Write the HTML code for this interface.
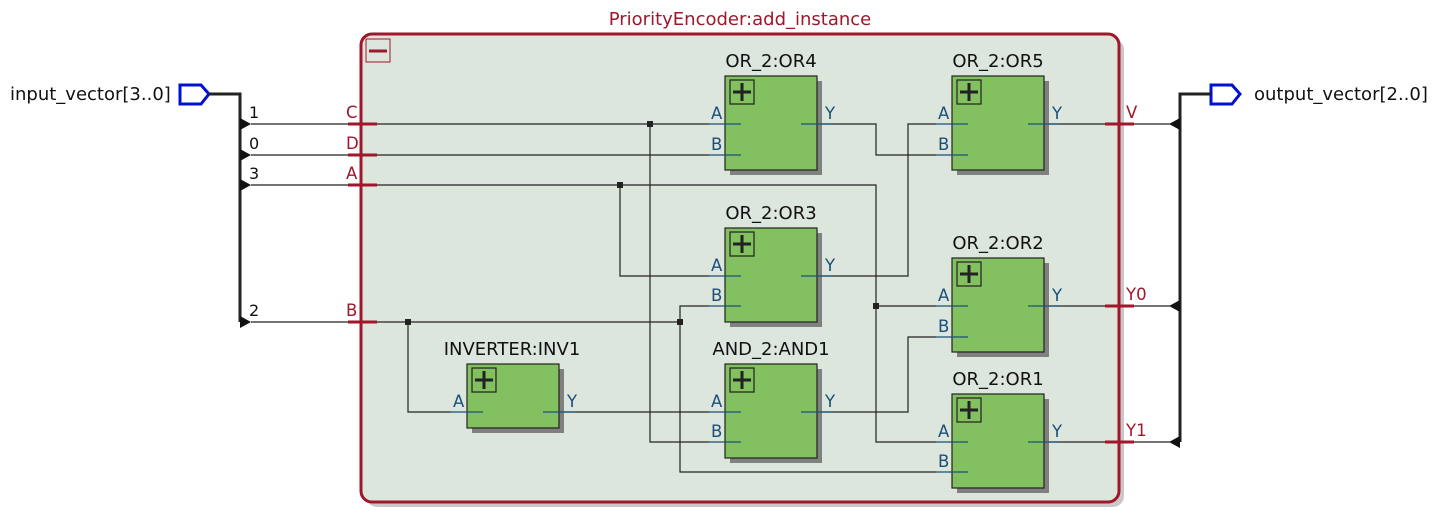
<!DOCTYPE html>
<html><head><meta charset="utf-8"><style>
body{margin:0;background:#fff;}
svg{display:block;font-family:"DejaVu Sans","Liberation Sans",sans-serif;}
</style></head><body>
<svg width="1441" height="527" viewBox="0 0 1441 527" xmlns="http://www.w3.org/2000/svg">
<defs>
<g id="plus"><rect x="0" y="0" width="24" height="24" fill="none" stroke="#222" stroke-width="1.2"/><path d="M12 3V21M3 12H21" stroke="#222" stroke-width="3"/></g>
</defs>
<rect x="366" y="39" width="758" height="468" rx="11" fill="#c8c8c8"/>
<rect x="361" y="34" width="758" height="468" rx="11" fill="#dde6dd" stroke="#a0162a" stroke-width="3"/>
<rect x="366" y="39" width="24" height="23" fill="none" stroke="#a0162a" stroke-width="1"/>
<path d="M369 51H387" stroke="#a0162a" stroke-width="3"/>
<text x="740" y="25" font-size="18" fill="#a0162a" text-anchor="middle">PriorityEncoder:add_instance</text>

<path d="M180 85H201L209 94L201 104H180Z" fill="none" stroke="#0010d0" stroke-width="3"/>
<text x="10" y="100" font-size="18" fill="#111">input_vector[3..0]</text>
<path d="M209 94H240V322" fill="none" stroke="#222" stroke-width="3"/>
<g fill="#111">
<path d="M240 118L251 124L240 130Z"/><path d="M240 149L251 155L240 161Z"/><path d="M240 179L251 185L240 191Z"/><path d="M240 316L251 322L240 328Z"/>
</g>
<g font-size="16" fill="#111"><text x="249" y="118">1</text><text x="249" y="149">0</text><text x="249" y="179">3</text><text x="249" y="316">2</text></g>

<path d="M1211 85H1232L1240 94L1232 104H1211Z" fill="none" stroke="#0010d0" stroke-width="3"/>
<text x="1254" y="100" font-size="18" fill="#111">output_vector[2..0]</text>
<path d="M1211 94H1180V442" fill="none" stroke="#222" stroke-width="3"/>
<g fill="#111">
<path d="M1180 118L1169 124L1180 130Z"/><path d="M1180 300L1169 306L1180 312Z"/><path d="M1180 436L1169 442L1180 448Z"/>
</g>

<g fill="none" stroke="#222" stroke-width="1.2">
<path d="M251 124H709"/><path d="M650 124V442H709"/>
<path d="M251 155H709"/>
<path d="M251 185H876V442H936"/><path d="M620 185V276H709"/><path d="M876 306H936"/>
<path d="M251 322H680"/><path d="M408 322V412H451"/><path d="M709 306H680V472H936"/>
<path d="M801 124H876V155H936"/>
<path d="M801 276H908V124H936"/>
<path d="M543 412H709"/>
<path d="M801 412H908V337H936"/>
<path d="M1028 124H1170"/><path d="M1028 306H1170"/><path d="M1028 442H1170"/>
</g>
<g fill="#222"><rect x="647" y="121" width="6" height="6"/><rect x="617" y="182" width="6" height="6"/><rect x="873" y="303" width="6" height="6"/><rect x="405" y="319" width="6" height="6"/><rect x="677" y="319" width="6" height="6"/></g>

<g stroke="#a0162a" stroke-width="3">
<path d="M348 124H377M348 155H377M348 185H377M348 322H377"/>
<path d="M1105 124H1134M1105 306H1134M1105 442H1134"/>
</g>
<g font-size="16.5" fill="#a0162a">
<text x="346" y="118">C</text><text x="346" y="149">D</text><text x="346" y="179">A</text><text x="346" y="316">B</text>
<text x="1126" y="118">V</text><text x="1126" y="300">Y0</text><text x="1126" y="436">Y1</text>
</g>

<g font-size="18" fill="#111">
<text x="771" y="67" text-anchor="middle">OR_2:OR4</text>
<text x="998" y="67" text-anchor="middle">OR_2:OR5</text>
<text x="771" y="219" text-anchor="middle">OR_2:OR3</text>
<text x="998" y="249" text-anchor="middle">OR_2:OR2</text>
<text x="512" y="355" text-anchor="middle">INVERTER:INV1</text>
<text x="771" y="355" text-anchor="middle">AND_2:AND1</text>
<text x="998" y="385" text-anchor="middle">OR_2:OR1</text>
</g>
<g fill="#808080">
<rect x="730" y="81" width="92" height="94"/><rect x="957" y="81" width="92" height="94"/>
<rect x="730" y="233" width="92" height="94"/><rect x="957" y="263" width="92" height="94"/>
<rect x="472" y="369" width="92" height="64"/><rect x="730" y="369" width="92" height="94"/>
<rect x="957" y="399" width="92" height="94"/>
</g>
<g fill="#83c060" stroke="#222" stroke-width="1.2">
<rect x="725" y="76" width="92" height="94"/><rect x="952" y="76" width="92" height="94"/>
<rect x="725" y="228" width="92" height="94"/><rect x="952" y="258" width="92" height="94"/>
<rect x="467" y="364" width="92" height="64"/><rect x="725" y="364" width="92" height="94"/>
<rect x="952" y="394" width="92" height="94"/>
</g>
<use href="#plus" x="730" y="80"/><use href="#plus" x="957" y="80"/>
<use href="#plus" x="730" y="232"/><use href="#plus" x="957" y="262"/>
<use href="#plus" x="472" y="368"/><use href="#plus" x="730" y="368"/>
<use href="#plus" x="957" y="398"/>
<g stroke="#1a4f7a" stroke-width="1.2">
<path d="M709 124H741M709 155H741M801 124H833"/>
<path d="M936 124H968M936 155H968M1028 124H1060"/>
<path d="M709 276H741M709 306H741M801 276H833"/>
<path d="M936 306H968M936 337H968M1028 306H1060"/>
<path d="M451 412H483M543 412H575"/>
<path d="M709 412H741M709 442H741M801 412H833"/>
<path d="M936 442H968M936 472H968M1028 442H1060"/>
</g>
<g font-size="16.5" fill="#1a4f7a">
<text x="711" y="119">A</text><text x="711" y="150">B</text><text x="825" y="119">Y</text>
<text x="938" y="119">A</text><text x="938" y="150">B</text><text x="1052" y="119">Y</text>
<text x="711" y="271">A</text><text x="711" y="301">B</text><text x="825" y="271">Y</text>
<text x="938" y="301">A</text><text x="938" y="332">B</text><text x="1052" y="301">Y</text>
<text x="453" y="407">A</text><text x="567" y="407">Y</text>
<text x="711" y="407">A</text><text x="711" y="437">B</text><text x="825" y="407">Y</text>
<text x="938" y="437">A</text><text x="938" y="467">B</text><text x="1052" y="437">Y</text>
</g>
</svg>
</body></html>
